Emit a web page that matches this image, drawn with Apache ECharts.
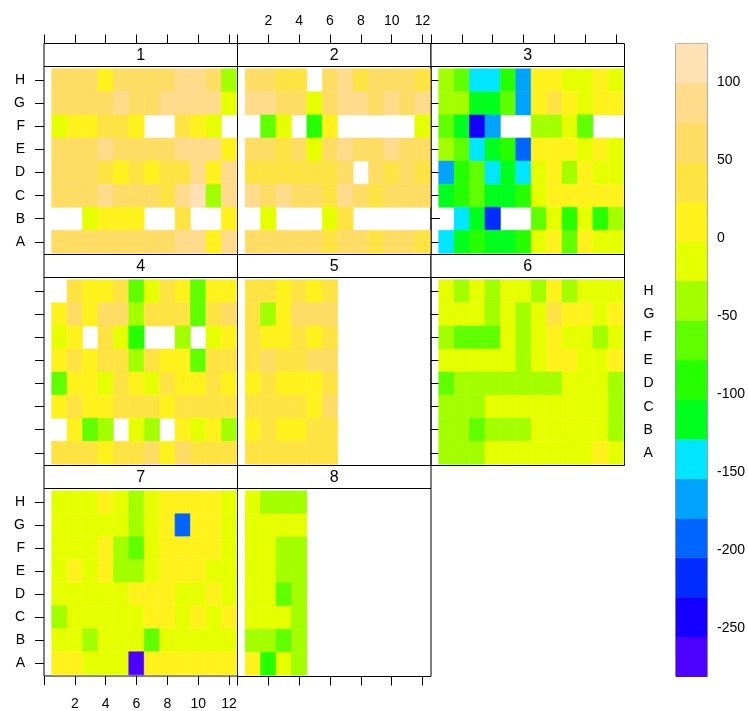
<!DOCTYPE html>
<html><head><meta charset="utf-8">
<script src="https://cdn.jsdelivr.net/npm/echarts@6/dist/echarts.min.js"></script>
<style>html,body{margin:0;padding:0;background:#fff}#c{width:748px;height:711px}</style>
</head><body><div id="c"></div><script>
const panelNames = ['1','2','3','4','5','6','7','8'];
const rowLabels = ['A','B','C','D','E','F','G','H'];
const colTicks = [0,2,4,6,8,10,12];
const colLabels = [2,4,6,8,10,12];
const colorbarTicks = [-250,-200,-150,-100,-50,0,50,100];
const colorBreaks = [-281,-255.6,-230.2,-204.9,-179.5,-154.1,-128.8,-103.4,-78.0,-52.6,-27.2,-1.9,23.5,48.9,74.2,99.6,125];
const colorScale = ['#4C00FF','#1500FF','#002CFF','#0064FF','#00A4FF','#00E6FF','#00FF1D','#26FF00','#60FF00','#A3FF00','#E6FF00','#FFF11C','#FFE343','#FFDC64','#FFDB8B','#FFE1B3'];
const N = null;
// each panel: rows listed from H (top) down to A (bottom), columns 1..12
const panel1 = [
 [62,62,62,11,62,62,62,62,87,87,62,-40],
 [62,62,62,62,87,62,62,87,87,87,87,-14],
 [-14,11,11,37,37,11,N,N,37,11,-14,N],
 [62,62,62,87,62,62,62,62,87,87,87,11],
 [62,62,62,37,11,37,11,37,37,87,11,87],
 [62,62,62,87,62,62,62,37,87,120,-40,87],
 [N,N,-14,11,11,11,N,N,37,N,N,11],
 [62,62,62,62,62,62,62,62,87,87,11,87]];
const panel2 = [
 [62,62,37,37,N,62,87,37,62,62,62,37],
 [87,87,62,62,-14,62,87,87,62,87,62,87],
 [N,-65,-14,N,-90,11,N,N,N,N,N,-14],
 [62,62,37,62,-14,62,87,62,62,87,62,62],
 [37,37,37,37,37,37,62,N,62,37,62,37],
 [87,62,87,62,62,37,87,62,37,62,62,62],
 [N,-14,N,N,N,-14,37,N,N,N,N,N],
 [62,62,62,62,62,37,62,62,37,62,62,37]];
const panel3 = [
 [-40,-65,-141,-141,-90,-167,11,11,-14,-14,11,-14],
 [-40,-40,-116,-116,-65,-167,11,37,11,-14,11,11],
 [-65,-116,-243,-167,N,N,-40,-40,-14,-65,N,N],
 [-40,-65,-141,-116,-90,-192,11,11,11,-14,11,-14],
 [-167,-90,-65,-141,-116,-141,-14,11,-40,11,-14,-14],
 [-116,-90,-65,-116,-116,-90,-14,11,11,11,11,11],
 [N,-141,-116,-217,N,N,-65,-14,-90,-14,-90,-40],
 [-141,-116,-90,-116,-116,-90,-14,11,-65,11,-14,-14]];
const panel4 = [
 [N,37,11,11,37,-65,-14,37,11,-65,11,11],
 [11,62,11,62,62,-40,37,37,37,-65,37,62],
 [-14,11,N,37,-14,-90,N,N,-40,N,-14,11],
 [11,37,11,37,37,-40,37,11,11,-65,37,37],
 [-65,11,11,-14,37,11,-14,37,11,11,37,11],
 [11,37,11,11,37,37,37,11,37,37,37,37],
 [N,11,-65,-40,N,-14,-40,N,11,-14,11,-40],
 [37,37,37,11,37,37,62,11,62,37,37,37]];
const panel5 = [
 [37,37,11,37,11,37,N,N,N,N,N,N],
 [37,-40,11,62,62,62,N,N,N,N,N,N],
 [37,11,11,37,11,37,N,N,N,N,N,N],
 [37,62,37,37,62,62,N,N,N,N,N,N],
 [11,37,11,11,11,37,N,N,N,N,N,N],
 [37,37,37,37,11,62,N,N,N,N,N,N],
 [11,37,11,11,37,37,N,N,N,N,N,N],
 [37,37,37,37,37,37,N,N,N,N,N,N]];
const panel6 = [
 [-14,-40,-14,-40,-14,-14,-40,11,-40,-14,-14,-14],
 [-14,-14,-14,-40,-14,-40,-14,37,11,11,-14,11],
 [-40,-65,-65,-65,-14,-40,-14,11,-14,-14,-40,-14],
 [-14,-14,-14,-14,-14,-40,-14,11,11,-14,-14,11],
 [-65,-40,-40,-40,-40,-40,-40,-40,-14,-14,-14,-40],
 [-40,-40,-40,-14,-14,-14,-14,-14,-14,-14,-14,-40],
 [-40,-40,-65,-40,-40,-40,-14,-14,-14,-14,-14,-40],
 [-40,-40,-40,-14,-14,-14,-14,-14,-14,-14,11,-14]];
const panel7 = [
 [-14,-14,-14,11,-14,-40,-14,11,11,11,11,-14],
 [-14,-14,-14,-14,-14,-40,-14,11,-192,11,11,-14],
 [-14,-14,-14,11,-40,-65,-14,11,11,11,11,-14],
 [-14,11,-14,11,-40,-40,-14,11,11,11,-14,-14],
 [-14,-14,-14,-14,-14,11,11,11,-14,-14,11,-14],
 [-40,-14,-14,-14,-14,-14,11,11,-14,11,-14,11],
 [-14,-14,-40,-14,-14,-14,-65,-14,-14,-14,-14,-14],
 [11,11,-14,-14,-14,-275,11,11,11,11,11,11]];
const panel8 = [
 [-14,-40,-40,-40,N,N,N,N,N,N,N,N],
 [-14,-14,-14,-14,N,N,N,N,N,N,N,N],
 [-14,-14,-40,-40,N,N,N,N,N,N,N,N],
 [-14,-14,-40,-40,N,N,N,N,N,N,N,N],
 [-14,-14,-65,-40,N,N,N,N,N,N,N,N],
 [-14,-14,-14,-40,N,N,N,N,N,N,N,N],
 [-40,-40,-65,-40,N,N,N,N,N,N,N,N],
 [11,-90,-14,-40,N,N,N,N,N,N,N,N]];
const panels = [panel1,panel2,panel3,panel4,panel5,panel6,panel7,panel8];

const FONT = "'Liberation Sans', Arial, sans-serif";
const colLeft = [44, 237.5, 431];
const panelW = 193.5;
const rowTop = [43.5, 254.5, 465.5];
const stripH = 23, panelH = 188;
// which sides show ticks / labels, per panel
const axisCfg = [
 {x:'top', xLab:false, y:'left', yLab:true},
 {x:'top', xLab:true, y:null},
 {x:'top', xLab:false, y:'right', yLab:false},
 {x:null, y:'left', yLab:false},
 {x:null, y:null},
 {x:null, y:'right', yLab:true},
 {x:'bottom', xLab:true, y:'left', yLab:true},
 {x:'bottom', xLab:false, y:null}
];

const grids = [], xAxes = [], yAxes = [], series = [], graphics = [];
panels.forEach((rows, p) => {
  const r = Math.floor(p / 3), c = p % 3;
  const left = colLeft[c], top = rowTop[r];
  grids.push({left: left, top: top + stripH, width: panelW, height: panelH,
    show: true, borderColor: '#000', borderWidth: 1, backgroundColor: 'transparent', containLabel: false});
  const cfg = axisCfg[p];
  xAxes.push({type: 'value', gridIndex: p, min: 0, max: 12.55, position: cfg.x || 'bottom',
    offset: cfg.x === 'top' ? stripH : 0,
    axisLine: {show: false}, splitLine: {show: false},
    axisTick: {show: !!cfg.x, inside: false, length: 9, customValues: colTicks, lineStyle: {color: '#000'}},
    axisLabel: {show: !!cfg.xLab, customValues: colLabels, margin: cfg.x === 'top' ? 15 : 21, color: '#000', fontSize: 14, fontFamily: FONT}});
  yAxes.push({type: 'value', gridIndex: p, min: 0.45, max: 8.6, position: cfg.y || 'left',
    axisLine: {show: false}, splitLine: {show: false},
    axisTick: {show: !!cfg.y, inside: false, length: 9, customValues: [1,2,3,4,5,6,7,8], lineStyle: {color: '#000'}},
    axisLabel: {show: !!cfg.yLab, customValues: [1,2,3,4,5,6,7,8], margin: 19, color: '#000', fontSize: 14, fontFamily: FONT,
      formatter: v => rowLabels[Math.round(v) - 1]}});
  const data = [];
  rows.forEach((row, i) => {
    row.forEach((v, j) => { if (v !== null) data.push([j + 1, 8 - i, v]); });
  });
  series.push({type: 'custom', xAxisIndex: p, yAxisIndex: p, data: data, clip: true,
    encode: {x: 0, y: 1}, dimensions: ['x', 'y', 'value'],
    renderItem: (params, api) => {
      const x = api.value(0), y = api.value(1);
      const p0 = api.coord([x - 0.5, y + 0.5]);
      const p1 = api.coord([x + 0.5, y - 0.5]);
      const col = api.visual('color');
      return {type: 'rect', shape: {x: p0[0], y: p0[1], width: p1[0] - p0[0], height: p1[1] - p0[1]},
        style: {fill: col, stroke: col, lineWidth: 0.6}};
    }});
  graphics.push({type: 'rect', shape: {x: left, y: top, width: panelW, height: stripH},
    style: {fill: '#fff', stroke: '#000', lineWidth: 1}, z: 10});
  graphics.push({type: 'text', x: left + panelW / 2, y: top + stripH / 2 + 1, z: 11,
    style: {text: panelNames[p], fill: '#000', fontSize: 16, fontFamily: FONT, align: 'center', verticalAlign: 'middle'}});
});

// colour key
const cb = panels.length;
grids.push({left: 676, top: 43.5, width: 35, height: 633, show: true, borderColor: '#333', borderWidth: 1, backgroundColor: 'transparent'});
xAxes.push({type: 'value', gridIndex: cb, min: 0, max: 1, show: false});
yAxes.push({type: 'value', gridIndex: cb, min: colorBreaks[0], max: colorBreaks[colorBreaks.length - 1], position: 'right',
  axisLine: {show: false}, splitLine: {show: false},
  axisTick: {show: true, length: 7, customValues: colorbarTicks, lineStyle: {color: '#000'}},
  axisLabel: {show: true, customValues: colorbarTicks, margin: 10, color: '#000', fontSize: 14, fontFamily: FONT}});
const keyData = colorScale.map((c, i) => [colorBreaks[i], colorBreaks[i + 1], (colorBreaks[i] + colorBreaks[i + 1]) / 2]);
series.push({type: 'custom', xAxisIndex: cb, yAxisIndex: cb, data: keyData, dimensions: ['lo', 'hi', 'value'],
  encode: {y: [0, 1]},
  renderItem: (params, api) => {
    const p0 = api.coord([0, api.value(1)]);
    const p1 = api.coord([1, api.value(0)]);
    const col = api.visual('color');
    return {type: 'rect', shape: {x: p0[0], y: p0[1], width: p1[0] - p0[0], height: p1[1] - p0[1]},
      style: {fill: col, stroke: col, lineWidth: 0.5}};
  }});

const pieces = colorScale.map((c, i) => {
  const pc = {gte: colorBreaks[i], color: c};
  if (i === colorScale.length - 1) pc.lte = colorBreaks[i + 1]; else pc.lt = colorBreaks[i + 1];
  return pc;
});

const chart = echarts.init(document.getElementById('c'), null, {renderer: 'canvas'});
chart.setOption({
  animation: false,
  backgroundColor: '#fff',
  grid: grids, xAxis: xAxes, yAxis: yAxes, series: series,
  visualMap: {type: 'piecewise', show: false, dimension: 2, seriesIndex: series.map((s, i) => i), pieces: pieces},
  graphic: graphics
});
</script></body></html>
